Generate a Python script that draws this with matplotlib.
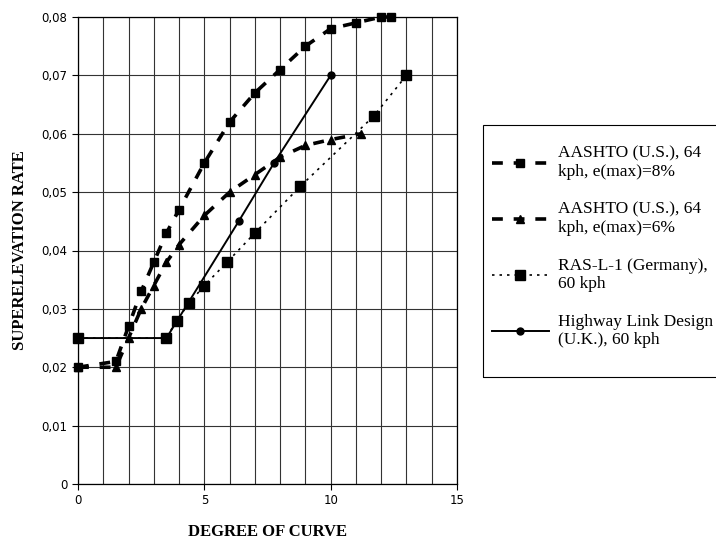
import matplotlib
matplotlib.use("Agg")
import matplotlib.pyplot as plt
from matplotlib.patches import Rectangle
from matplotlib.ticker import FuncFormatter, MultipleLocator

# AASHTO (U.S.), 64 kph, e(max)=8%
aashto8_x = [0, 1.5, 2.0, 2.5, 3.0, 3.5, 4.0, 5.0, 6.0, 7.0, 8.0, 9.0, 10.0, 11.0, 12.0, 12.4]
aashto8_y = [0.020, 0.021, 0.027, 0.033, 0.038, 0.043, 0.047, 0.055, 0.062, 0.067, 0.071, 0.075, 0.078, 0.079, 0.080, 0.080]

# AASHTO (U.S.), 64 kph, e(max)=6%
aashto6_x = [0, 1.5, 2.0, 2.5, 3.0, 3.5, 4.0, 5.0, 6.0, 7.0, 8.0, 9.0, 10.0, 11.2]
aashto6_y = [0.020, 0.020, 0.025, 0.030, 0.034, 0.038, 0.041, 0.046, 0.050, 0.053, 0.056, 0.058, 0.059, 0.060]

# RAS-L-1 (Germany), 60 kph
ras_x = [0, 3.5, 3.9, 4.4, 5.0, 5.9, 7.0, 8.8, 11.7, 13.0]
ras_y = [0.025, 0.025, 0.028, 0.031, 0.034, 0.038, 0.043, 0.051, 0.063, 0.070]

# Highway Link Design (U.K.), 60 kph
uk_x = [0, 3.5, 6.36, 7.76, 10.0]
uk_y = [0.025, 0.025, 0.045, 0.055, 0.070]

labels = ["AASHTO (U.S.), 64\nkph, e(max)=8%",
          "AASHTO (U.S.), 64\nkph, e(max)=6%",
          "RAS-L-1 (Germany),\n60 kph",
          "Highway Link Design\n(U.K.), 60 kph"]

fig = plt.figure(figsize=(7.16, 5.45), dpi=100)
ax = fig.add_axes([78/716, 1 - 484/545, (457 - 78)/716, (484 - 17)/545])

ax.plot(aashto8_x, aashto8_y, color='black', lw=2.6, ls=(0, (3, 3)),
        marker='s', ms=6, label=labels[0], clip_on=False, zorder=4)
ax.plot(aashto6_x, aashto6_y, color='black', lw=2.6, ls=(0, (3, 3)),
        marker='^', ms=6, label=labels[1], clip_on=False, zorder=4)
ax.plot(ras_x, ras_y, color='black', lw=1.2, ls=(0, (1.5, 3)),
        marker='s', ms=6.5, label=labels[2], clip_on=False, zorder=4)
ax.plot(uk_x, uk_y, color='black', lw=1.4, ls='-',
        marker='o', ms=5, label=labels[3], clip_on=False, zorder=5)

ax.set_xlim(0, 15)
ax.set_ylim(0, 0.08)
ax.xaxis.set_major_locator(MultipleLocator(5))
ax.xaxis.set_minor_locator(MultipleLocator(1))
ax.yaxis.set_major_locator(MultipleLocator(0.01))
ax.grid(True, which='both', color='#333333', lw=0.8)
ax.set_axisbelow(True)
for s in ax.spines.values():
    s.set_linewidth(0.9)
ax.tick_params(axis='both', which='major', length=4, width=0.8, labelsize=8.5)
ax.tick_params(axis='x', which='minor', length=0)
ax.yaxis.set_major_formatter(FuncFormatter(
    lambda v, p: '0' if abs(v) < 1e-9 else ('%.2f' % v).replace('.', ',')))

for t in ax.get_xticklabels() + ax.get_yticklabels():
    t.set_family('DejaVu Sans')

ax.set_xlabel('DEGREE OF CURVE', family='Liberation Serif', fontweight='bold',
              fontsize=12, labelpad=12)
ax.set_ylabel('SUPERELEVATION RATE', family='Liberation Serif', fontweight='bold',
              fontsize=12, labelpad=10)

# legend box runs off the right edge, so draw the frame separately
fig.patches.append(Rectangle((483/716, 1 - 377/545), 0.5, (377 - 125)/545,
                             transform=fig.transFigure, fill=False,
                             edgecolor='black', lw=0.8))
leg = fig.legend(loc='upper left', bbox_to_anchor=(483/716, 1 - 137/545),
                 prop={'family': 'Liberation Serif', 'size': 12.5},
                 frameon=False, handlelength=3.3, handletextpad=0.5,
                 labelspacing=1.25, borderpad=0.5, borderaxespad=0)

fig.savefig('out.png', dpi=100)
